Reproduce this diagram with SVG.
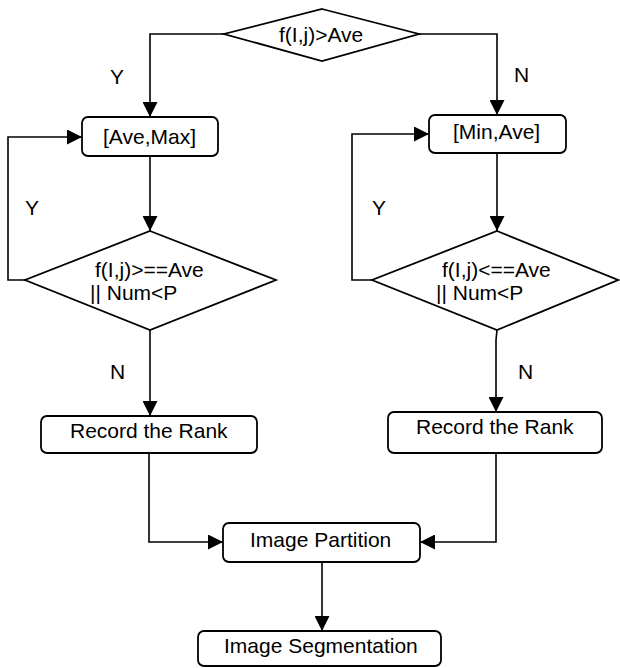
<svg xmlns="http://www.w3.org/2000/svg" width="620" height="668" viewBox="0 0 620 668">
<defs>
<marker id="arr" markerUnits="userSpaceOnUse" markerWidth="15" markerHeight="15" refX="15" refY="7.5" orient="auto">
<path d="M0,0 L15,7.5 L0,15 z" fill="#000"/>
</marker>
<style>
.n{fill:#fff;stroke:#000;stroke-width:1.8}
.c{fill:none;stroke:#000;stroke-width:1.6}
.a{marker-end:url(#arr)}
text{font-family:"Liberation Sans",Arial,sans-serif;font-size:21px;fill:#000}
</style>
</defs>
<rect width="620" height="668" fill="#fff"/>
<g id="connectors">
<polyline class="c a" points="224,34 150,34 150,117"/>
<polyline class="c a" points="419,34 497,34 497,115"/>
<line class="c a" x1="150" y1="156" x2="150" y2="231"/>
<line class="c a" x1="497" y1="153" x2="497" y2="231"/>
<polyline class="c a" points="25,280 8,280 8,137 82,137"/>
<polyline class="c a" points="372,280 352,280 352,134 429,134"/>
<line class="c a" x1="150" y1="330" x2="150" y2="416"/>
<polyline class="c a" points="497,330 496,340 496,412"/>
<polyline class="c a" points="149,453 149,542 223,542"/>
<polyline class="c a" points="496,453 496,542 420,542"/>
<line class="c a" x1="322" y1="562" x2="322" y2="631"/>
</g>
<g id="labels">
<text x="110" y="84">Y</text>
<text x="514" y="82">N</text>
<text x="25" y="215">Y</text>
<text x="372" y="215">Y</text>
<text x="110" y="379">N</text>
<text x="518" y="379">N</text>
</g>
<g id="decision-top">
<polygon class="n" points="322,9 419,34 322,61 224,34"/>
<text x="279" y="42">f(I,j)&gt;Ave</text>
</g>
<g id="range-high">
<rect class="n" x="82" y="117" width="136" height="39" rx="6"/>
<text x="103" y="144">[Ave,Max]</text>
</g>
<g id="range-low">
<rect class="n" x="429" y="115" width="137" height="38" rx="6"/>
<text x="453" y="139">[Min,Ave]</text>
</g>
<g id="decision-high">
<polygon class="n" points="150,231 276,280 150,330 25,280"/>
<text x="95" y="277">f(I,j)&gt;==Ave</text>
<text x="90" y="300">|| Num&lt;P</text>
</g>
<g id="decision-low">
<polygon class="n" points="497,231 618,280 497,330 372,280"/>
<text x="442" y="277">f(I,j)&lt;==Ave</text>
<text x="436" y="300">|| Num&lt;P</text>
</g>
<g id="record-left">
<rect class="n" x="41" y="416" width="216" height="37" rx="6"/>
<text x="70" y="438">Record the Rank</text>
</g>
<g id="record-right">
<rect class="n" x="388" y="412" width="214" height="41" rx="6"/>
<text x="416" y="434">Record the Rank</text>
</g>
<g id="partition">
<rect class="n" x="223" y="523" width="197" height="39" rx="6"/>
<text x="250" y="547">Image Partition</text>
</g>
<g id="segmentation">
<rect class="n" x="198" y="631" width="243" height="35" rx="6"/>
<text x="224" y="653">Image Segmentation</text>
</g>
</svg>
